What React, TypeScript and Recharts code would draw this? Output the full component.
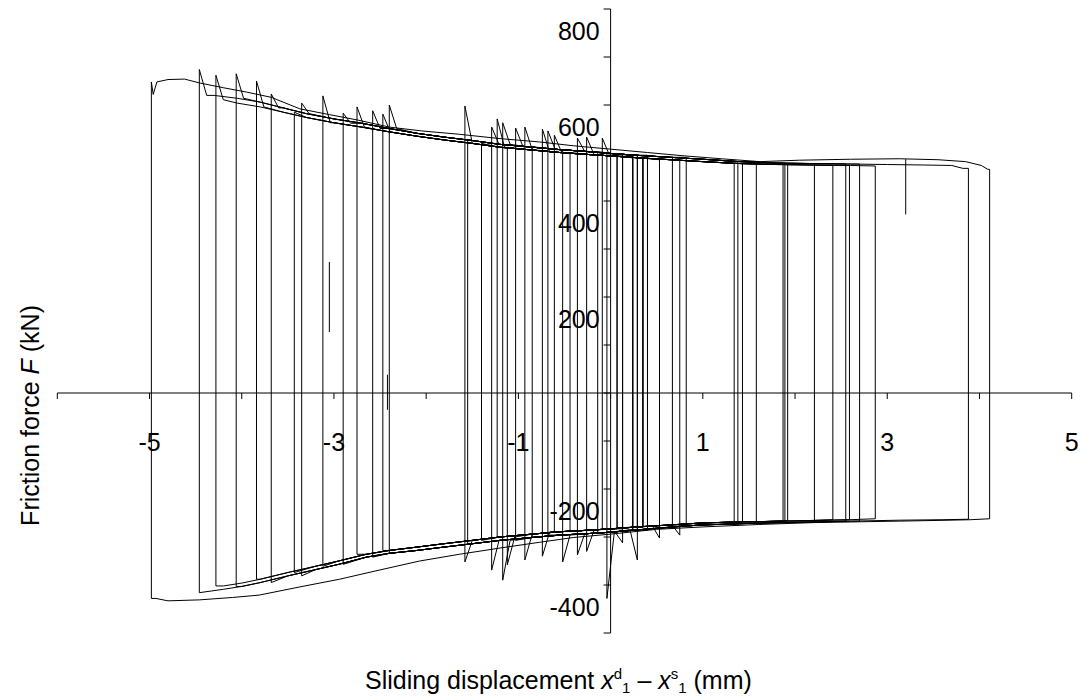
import { LineChart, Line, XAxis, YAxis, ReferenceLine } from 'recharts';

// axes
const xDomain: [number, number] = [-6, 5];
const yDomain: [number, number] = [-500, 800];
const xTicks = [-6, -5, -4, -3, -2, -1, 0, 1, 2, 3, 4, 5];
const xTickLabels = [-5, -3, -1, 1, 3, 5];
const yTicks = [800, 700, 600, 500, 400, 300, 200, 100, 0, -100, -200, -300, -400, -500];
const yTickLabels = [800, 600, 400, 200, -200, -400];

// branches: [displacement mm, force kN]
const upperOuter = [
  [-4.96, 622], [-4.92, 648], [-4.8, 653], [-4.62, 654], [-4.46, 646], [-4.2, 636],
  [-3.95, 627], [-3.68, 616], [-3.37, 592], [-3.05, 580], [-2.75, 569], [-2.4, 554],
  [-2.05, 546], [-1.64, 539], [-1.2, 530], [-0.77, 523], [-0.4, 515], [0, 508],
  [0.4, 501], [0.8, 494], [1.2, 488], [1.62, 482], [2.05, 485], [2.6, 487],
  [3.13, 488], [3.55, 486], [3.85, 482], [4.02, 474], [4.09, 466],
];
const upperInner = [
  [-4.55, 625], [-4.3, 620], [-4.05, 614], [-3.8, 606], [-3.55, 594], [-3.3, 582],
  [-3.0, 571], [-2.7, 562], [-2.4, 551], [-2.1, 541], [-1.8, 533], [-1.5, 526],
  [-1.2, 518], [-0.9, 513], [-0.55, 507], [-0.25, 503], [0, 499], [0.3, 495],
  [0.65, 491], [1.0, 487], [1.4, 482], [1.8, 479], [2.2, 478], [2.6, 477],
  [3.0, 476], [3.4, 475], [3.7, 474], [3.82, 468],
];
const upperInnerLow = [
  [-4.55, 616], [-4.3, 611], [-4.05, 604], [-3.8, 596], [-3.55, 585], [-3.3, 574],
  [-3.0, 563], [-2.7, 554], [-2.4, 544], [-2.1, 535], [-1.8, 527], [-1.5, 520],
  [-1.2, 512], [-0.9, 507], [-0.55, 501], [-0.25, 497], [0, 494], [0.3, 490],
  [0.65, 486], [1.0, 482], [1.4, 478], [1.8, 476], [2.2, 475], [2.6, 474],
  [3.0, 473], [3.4, 472], [3.7, 471], [3.82, 466],
];
const lowerOuter = [
  [-4.93, -428], [-4.8, -433], [-4.46, -431], [-4.1, -426], [-3.81, -421], [-3.37, -404],
  [-2.94, -388], [-2.51, -369], [-2.07, -350], [-1.64, -336], [-1.2, -323], [-0.77, -311],
  [-0.4, -301], [0, -294], [0.5, -284], [1.0, -279], [1.6, -274], [2.2, -270],
  [2.8, -268], [3.4, -266], [3.9, -264], [4.11, -262],
];
const lowerInner = [
  [-4.5, -416], [-4.2, -409], [-4.0, -403], [-3.8, -395], [-3.5, -381], [-3.2, -368],
  [-2.95, -357], [-2.65, -342], [-2.4, -334], [-2.1, -328], [-1.85, -322], [-1.5, -314],
  [-1.2, -307], [-0.85, -301], [-0.55, -296], [-0.25, -293], [0, -290], [0.3, -285],
  [0.55, -281], [0.97, -275], [1.3, -273], [1.62, -271], [2.1, -269], [2.59, -267],
  [3.13, -265], [3.6, -264], [3.9, -263],
];
const lowerInnerHigh = [
  [-4.5, -410], [-4.2, -402], [-4.0, -396], [-3.8, -388], [-3.5, -374], [-3.2, -361],
  [-2.95, -350], [-2.65, -336], [-2.4, -328], [-2.1, -321], [-1.85, -315], [-1.5, -307],
  [-1.2, -300], [-0.85, -294], [-0.55, -289], [-0.25, -286], [0, -283], [0.3, -279],
  [0.55, -276], [0.97, -271], [1.3, -269], [1.62, -268], [2.1, -266], [2.59, -264],
  [3.13, -262], [3.6, -261], [3.9, -260],
];

// reversal points of each cycle
const loopLeft = [
  -4.98, -4.46, -4.28, -4.06, -3.84, -3.68, -3.43, -3.35, -3.12, -2.9,
  -2.75, -2.58, -2.47, -2.4, -1.58, -1.55, -1.4, -1.29, -1.23, -1.17,
  -1.12, -1.03, -0.93, -0.85, -0.74, -0.68, -0.61, -0.52, -0.44, -0.36,
  -0.26, -0.14, -0.09, -0.04,
];
const loopRight = [
  4.11, 3.88, 2.87, 2.7, 2.59, 2.55, 2.41, 2.21, 1.92, 1.89,
  1.87, 1.58, 1.43, 1.38, 1.34, 0.82, 0.75, 0.67, 0.53, 0.4,
  0.35, 0.29, 0.24, 0.13, 0.07, 0.4, 0.35, 0.24, 0.13, 0.29,
  0.07, 0.4, 0.35, 0.24,
];
// overshoot spikes at the corners (null = none)
const loopPeak: (number | null)[] = [
  648, 674, 662, 665, 650, 623, null, 604, 619, 583,
  596, 588, 581, 600, 598, null, null, 554, 571, 563,
  null, 552, 554, null, 550, 546, 537, null, null, 531,
  533, null, 531, null,
];
const loopDipL: (number | null)[] = [
  null, null, null, null, null, null, null, null, null, null,
  null, null, null, null, -352, null, null, -369, null, -390,
  -358, null, -348, null, -340, null, null, -352, null, -337,
  -330, null, null, -428,
];
const loopDipR: (number | null)[] = [
  null, null, null, null, null, null, null, null, null, null,
  null, null, null, null, null, null, -296, null, -302, null,
  null, -348, null, -312, null, null, null, null, null, null,
  null, null, null, null,
];
const spikeWidth = 0.08;

// short stray traces
const fragments = [
  [[3.2, 487], [3.2, 372]],
  [[-3.05, 273], [-3.05, 127]],
  [[-2.42, 38], [-2.42, -35]],
];

type Pt = { x: number; F: number };

const nearest = (branch: number[][], x: number) =>
  branch.reduce((b, p) => (Math.abs(p[0] - x) < Math.abs(b[0] - x) ? p : b))[1];

function buildLoop(i: number): Pt[] {
  const up = i === 0 ? upperOuter : i % 2 === 0 ? upperInnerLow : upperInner;
  const lo = i === 0 ? lowerOuter : i % 2 === 0 ? lowerInnerHigh : lowerInner;
  const l = loopLeft[i];
  const r = loopRight[i];
  const peak = loopPeak[i];
  const dipL = loopDipL[i];
  const dipR = loopDipR[i];
  const top = peak ?? nearest(up, l);
  const pts: Pt[] = [{ x: l, F: top }];
  let upFrom = l;
  if (peak != null && i > 0) {
    upFrom = l + spikeWidth;
    pts.push({ x: upFrom, F: nearest(up, upFrom) });
  }
  up.filter((p) => p[0] > upFrom && p[0] < r).forEach((p) => pts.push({ x: p[0], F: p[1] }));
  pts.push({ x: r, F: nearest(up, r) });
  let loFrom = r;
  if (dipR != null) {
    pts.push({ x: r, F: dipR });
    loFrom = r - spikeWidth;
    pts.push({ x: loFrom, F: nearest(lo, loFrom) });
  } else {
    pts.push({ x: r, F: nearest(lo, r) });
  }
  const loTo = dipL != null ? l + spikeWidth : l;
  lo.filter((p) => p[0] > loTo && p[0] < loFrom)
    .reverse()
    .forEach((p) => pts.push({ x: p[0], F: p[1] }));
  if (dipL != null) {
    pts.push({ x: loTo, F: nearest(lo, loTo) });
    pts.push({ x: l, F: dipL });
  } else {
    pts.push({ x: l, F: nearest(lo, l) });
  }
  pts.push({ x: l, F: top });
  return pts;
}

const loops = loopLeft.map((_, i) => buildLoop(i));
const fragData = fragments.map((f) => f.map((p) => ({ x: p[0], F: p[1] })));

const font = "'Liberation Sans', Arial, sans-serif";

const XAxisShape = (props: any) => {
  const left = Math.min(props.x1, props.x2);
  const right = Math.max(props.x1, props.x2);
  const y = props.y1;
  const px = (v: number) => left + ((v - xDomain[0]) / (xDomain[1] - xDomain[0])) * (right - left);
  return (
    <g>
      <line x1={left} y1={y} x2={right} y2={y} stroke="#000" strokeWidth={1} />
      {xTicks.map((t) => (
        <line key={t} x1={px(t)} x2={px(t)} y1={y} y2={y + 6} stroke="#000" strokeWidth={1} />
      ))}
      {xTickLabels.map((t) => (
        <text key={'l' + t} x={px(t)} y={y + 58} textAnchor="middle" fontSize={25} fontFamily={font} fill="#000">
          {t}
        </text>
      ))}
      <text x={365} y={689} fontSize={25} fontFamily={font} fill="#000">
        Sliding displacement <tspan fontStyle="italic">x</tspan>
        <tspan fontSize={15} dy={-10}>d</tspan>
        <tspan fontSize={15} dy={14}>1</tspan>
        <tspan dy={-4}> – </tspan>
        <tspan fontStyle="italic">x</tspan>
        <tspan fontSize={15} dy={-10}>s</tspan>
        <tspan fontSize={15} dy={14}>1</tspan>
        <tspan dy={-4}> (mm)</tspan>
      </text>
    </g>
  );
};

const YAxisShape = (props: any) => {
  const top = Math.min(props.y1, props.y2);
  const bottom = Math.max(props.y1, props.y2);
  const x = props.x1;
  const py = (v: number) => top + ((yDomain[1] - v) / (yDomain[1] - yDomain[0])) * (bottom - top);
  return (
    <g>
      <line x1={x} y1={top} x2={x} y2={bottom} stroke="#000" strokeWidth={1} />
      {yTicks.map((t) => (
        <line key={t} x1={x - 7} x2={x} y1={py(t)} y2={py(t)} stroke="#000" strokeWidth={1} />
      ))}
      {yTickLabels.map((t) => (
        <text key={'l' + t} x={x - 11} y={py(t) + 31} textAnchor="end" fontSize={25} fontFamily={font} fill="#000">
          {t}
        </text>
      ))}
      <text
        x={39}
        y={305}
        transform="rotate(-90 39 305)"
        textAnchor="end"
        fontSize={25}
        fontFamily={font}
        fill="#000"
      >
        Friction force <tspan fontStyle="italic">F</tspan> (kN)
      </text>
    </g>
  );
};

export default function App() {
  return (
    <div style={{ position: 'absolute', left: 0, top: 0, width: 1083, height: 698, background: '#fff' }}>
      <LineChart width={1083} height={698} margin={{ top: 9, right: 11.3, bottom: 65, left: 57.3 }}>
        <XAxis type="number" dataKey="x" domain={xDomain} allowDataOverflow hide />
        <YAxis type="number" dataKey="F" domain={yDomain} allowDataOverflow hide />
        {loops.map((d, i) => (
          <Line
            key={'loop' + i}
            data={d}
            dataKey="F"
            type="linear"
            stroke="#000"
            strokeWidth={1}
            dot={false}
            activeDot={false}
            isAnimationActive={false}
          />
        ))}
        {fragData.map((d, i) => (
          <Line
            key={'frag' + i}
            data={d}
            dataKey="F"
            type="linear"
            stroke="#000"
            strokeWidth={1}
            dot={false}
            activeDot={false}
            isAnimationActive={false}
          />
        ))}
        <ReferenceLine y={0} shape={XAxisShape} />
        <ReferenceLine x={0} shape={YAxisShape} />
      </LineChart>
    </div>
  );
}
